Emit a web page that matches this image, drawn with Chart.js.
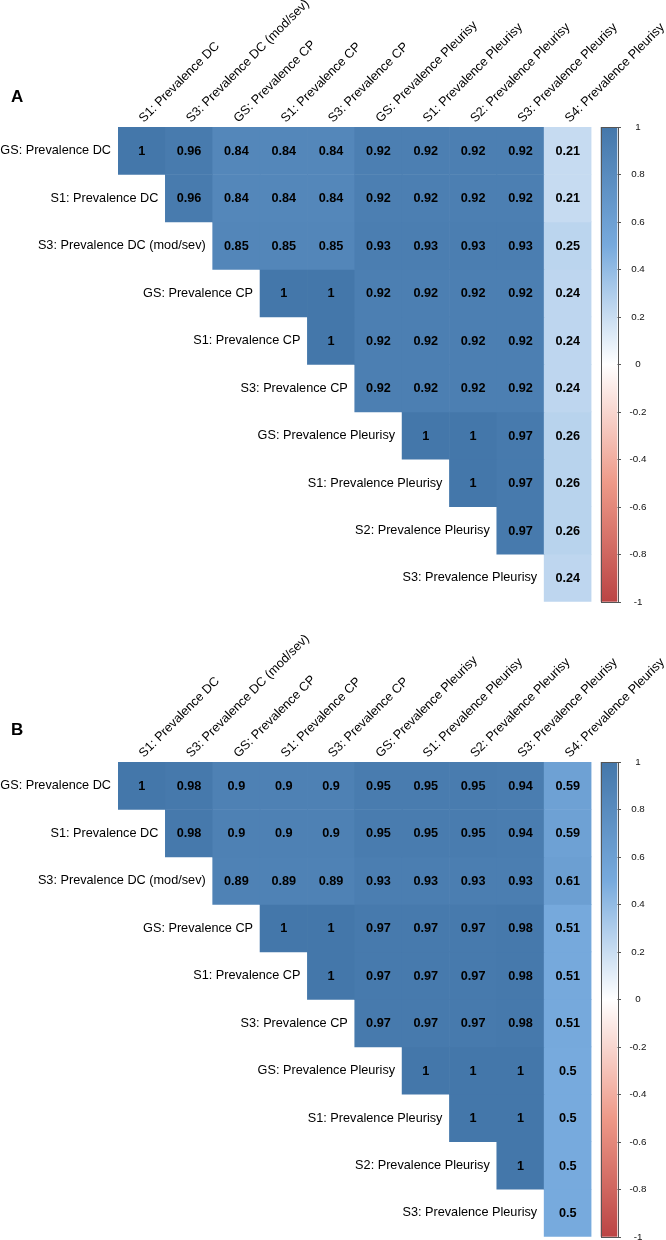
<!DOCTYPE html>
<html><head><meta charset="utf-8">
<script src="https://cdn.jsdelivr.net/npm/chart.js@4/dist/chart.umd.min.js"></script>
<style>
html,body{margin:0;padding:0;background:#fff;}
body{width:666px;height:1240px;position:relative;overflow:hidden;}
canvas{position:absolute;left:0;}
#cA{top:0px}
#cB{top:635px}
</style></head><body>
<canvas id="cA" width="666" height="620"></canvas>
<canvas id="cB" width="666" height="605"></canvas>
<script>
// ---- data ----
const rowLabels = [
  'GS: Prevalence DC','S1: Prevalence DC','S3: Prevalence DC (mod/sev)',
  'GS: Prevalence CP','S1: Prevalence CP','S3: Prevalence CP',
  'GS: Prevalence Pleurisy','S1: Prevalence Pleurisy','S2: Prevalence Pleurisy','S3: Prevalence Pleurisy'
];
const colLabels = [
  'S1: Prevalence DC','S3: Prevalence DC (mod/sev)','GS: Prevalence CP','S1: Prevalence CP',
  'S3: Prevalence CP','GS: Prevalence Pleurisy','S1: Prevalence Pleurisy','S2: Prevalence Pleurisy',
  'S3: Prevalence Pleurisy','S4: Prevalence Pleurisy'
];
// upper triangle, row r starts at column r
const corrA = [
  [1, 0.96, 0.84, 0.84, 0.84, 0.92, 0.92, 0.92, 0.92, 0.21],
  [0.96, 0.84, 0.84, 0.84, 0.92, 0.92, 0.92, 0.92, 0.21],
  [0.85, 0.85, 0.85, 0.93, 0.93, 0.93, 0.93, 0.25],
  [1, 1, 0.92, 0.92, 0.92, 0.92, 0.24],
  [1, 0.92, 0.92, 0.92, 0.92, 0.24],
  [0.92, 0.92, 0.92, 0.92, 0.24],
  [1, 1, 0.97, 0.26],
  [1, 0.97, 0.26],
  [0.97, 0.26],
  [0.24]
];
const corrB = [
  [1, 0.98, 0.9, 0.9, 0.9, 0.95, 0.95, 0.95, 0.94, 0.59],
  [0.98, 0.9, 0.9, 0.9, 0.95, 0.95, 0.95, 0.94, 0.59],
  [0.89, 0.89, 0.89, 0.93, 0.93, 0.93, 0.93, 0.61],
  [1, 1, 0.97, 0.97, 0.97, 0.98, 0.51],
  [1, 0.97, 0.97, 0.97, 0.98, 0.51],
  [0.97, 0.97, 0.97, 0.98, 0.51],
  [1, 1, 1, 0.5],
  [1, 1, 0.5],
  [1, 0.5],
  [0.5]
];
const legendTicks = [1, 0.8, 0.6, 0.4, 0.2, 0, -0.2, -0.4, -0.6, -0.8, -1];
const paletteStops = ['#BB4444', '#EE9988', '#FFFFFF', '#77AADD', '#4477AA'];

// ---- helpers ----
const FONT = "'Liberation Sans', Arial, Helvetica, sans-serif";
function hex2rgb(h){ return [parseInt(h.slice(1,3),16),parseInt(h.slice(3,5),16),parseInt(h.slice(5,7),16)]; }
const stopsRGB = paletteStops.map(hex2rgb);
function colorFor(v){
  let t = (v + 1) / 2 * (stopsRGB.length - 1);
  let i = Math.min(stopsRGB.length - 2, Math.max(0, Math.floor(t)));
  let f = t - i;
  const a = stopsRGB[i], b = stopsRGB[i+1];
  const c = a.map((x,k)=>Math.round(x + (b[k]-x)*f));
  return 'rgb(' + c.join(',') + ')';
}

const corrPlugin = {
  id: 'corrDecor',
  afterDatasetsDraw(chart, args, opts) {
    const ctx = chart.ctx;
    const xs = chart.scales.x, ys = chart.scales.y, cb = chart.scales.cb;
    const area = chart.chartArea;
    const corr = opts.corr;
    const cellW = xs.getPixelForValue(1) - xs.getPixelForValue(0);
    ctx.save();
    // cell numbers
    ctx.fillStyle = '#000';
    ctx.font = 'bold 12.7px ' + FONT;
    ctx.textAlign = 'center';
    ctx.textBaseline = 'middle';
    corr.forEach((row, r) => {
      row.forEach((v, k) => {
        const c = r + k;
        ctx.fillText(String(v), xs.getPixelForValue(c), ys.getPixelForValue(r + 0.5) + 0.5);
      });
    });
    // row labels
    ctx.font = '12.7px ' + FONT;
    ctx.textAlign = 'right';
    rowLabels.forEach((lab, r) => {
      ctx.fillText(lab, xs.getPixelForValue(r) - cellW / 2 - 7, ys.getPixelForValue(r + 0.5));
    });
    // column labels (rotated 45deg)
    ctx.textAlign = 'left';
    ctx.textBaseline = 'alphabetic';
    colLabels.forEach((lab, c) => {
      ctx.save();
      ctx.translate(xs.getPixelForValue(c) + 2, area.top - 4);
      ctx.rotate(-Math.PI / 4);
      ctx.fillText(lab, 0, 0);
      ctx.restore();
    });
    // color legend
    const x0 = area.right + 9.2, x1 = area.right + 25.8;
    const yTop = cb.getPixelForValue(1), yBot = cb.getPixelForValue(-1);
    const g = ctx.createLinearGradient(0, yTop, 0, yBot);
    paletteStops.slice().reverse().forEach((col, i, arr) => g.addColorStop(i / (arr.length - 1), col));
    ctx.fillStyle = g;
    ctx.fillRect(x0, yTop, x1 - x0, yBot - yTop);
    ctx.strokeStyle = '#555';
    ctx.lineWidth = 1;
    ctx.strokeRect(Math.round(x0) + 0.5, Math.round(yTop) + 0.5, Math.round(x1 - x0), Math.round(yBot - yTop));
    ctx.fillStyle = '#111';
    ctx.font = '9.8px ' + FONT;
    ctx.textAlign = 'center';
    ctx.textBaseline = 'middle';
    legendTicks.forEach(t => {
      const y = Math.round(cb.getPixelForValue(t)) + 0.5;
      ctx.beginPath();
      ctx.moveTo(Math.round(x1) + 0.5, y);
      ctx.lineTo(Math.round(x1) + 4, y);
      ctx.stroke();
      ctx.fillText(String(t), area.right + 46.5, y);
    });
    // panel letter
    ctx.fillStyle = '#000';
    ctx.font = 'bold 17px ' + FONT;
    ctx.textAlign = 'left';
    ctx.textBaseline = 'middle';
    ctx.fillText(opts.letter, 11, opts.letterY);
    ctx.restore();
  }
};

function makeChart(id, corr, letter, letterY, padBottom) {
  const datasets = rowLabels.map((lab, r) => ({
    label: lab,
    data: colLabels.map((_, c) => c >= r ? [r, r + 1] : null),
    backgroundColor: colLabels.map((_, c) => c >= r ? colorFor(corr[r][c - r]) : 'rgba(0,0,0,0)'),
    borderWidth: 0,
    barPercentage: 1,
    categoryPercentage: 1,
    grouped: false
  }));
  return new Chart(document.getElementById(id), {
    type: 'bar',
    data: { labels: colLabels, datasets },
    options: {
      responsive: false,
      devicePixelRatio: 1,
      animation: false,
      layout: { padding: { left: 118, top: 127, right: 74.5, bottom: padBottom } },
      plugins: {
        legend: { display: false },
        tooltip: { enabled: false },
        corrDecor: { corr, letter, letterY }
      },
      scales: {
        x: { type: 'category', display: false, offset: true },
        y: { type: 'linear', min: 0, max: 10, reverse: true, display: false },
        cb: { type: 'linear', min: -1, max: 1, display: false, position: 'right' }
      }
    },
    plugins: [corrPlugin]
  });
}
makeChart('cA', corrA, 'A', 97, 620 - 601.7);
makeChart('cB', corrB, 'B', 95, 605 - 601.7);
</script>
</body></html>
